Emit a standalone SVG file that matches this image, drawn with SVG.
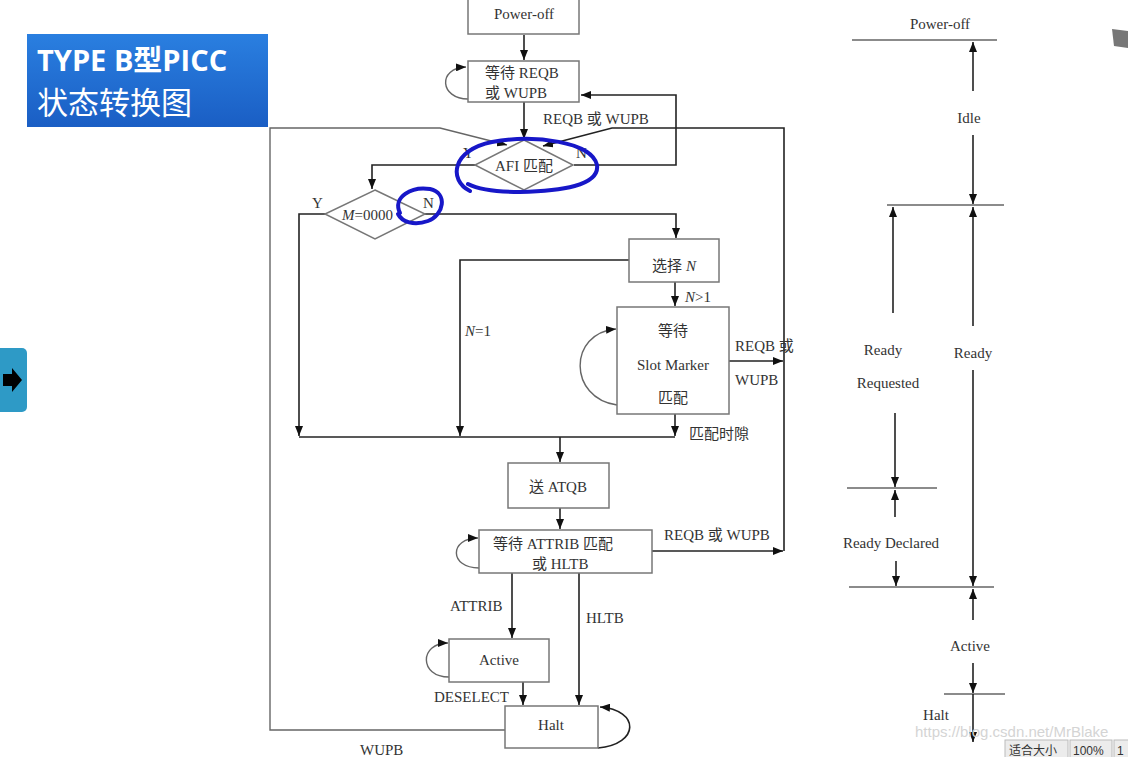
<svg xmlns="http://www.w3.org/2000/svg" width="1128" height="757" viewBox="0 0 1128 757">
<style>
.t{font-family:"Liberation Serif","Noto Sans CJK SC",serif;font-size:15px;fill:#333}
.c{text-anchor:middle}
.b{fill:#fff;stroke:#777;stroke-width:1.5}
.l{fill:none;stroke:#222;stroke-width:1.6}
.g{fill:none;stroke:#666;stroke-width:1.4}
.ann{fill:none;stroke:#1717c8;stroke-width:4;stroke-linecap:round}
</style>
<defs>
<marker id="a" markerWidth="10" markerHeight="8" refX="10" refY="4" orient="auto" markerUnits="userSpaceOnUse"><path d="M0,0 L10,4 L0,8 z" fill="#111"/></marker>
<linearGradient id="tg" x1="0" y1="0" x2="0" y2="1"><stop offset="0" stop-color="#2a7fe0"/><stop offset="1" stop-color="#1a5ec4"/></linearGradient>
</defs>
<rect width="1128" height="757" fill="#fff"/>

<g id="title">
<rect x="27" y="34" width="241" height="93" fill="url(#tg)"/>
<text x="37" y="71" style="font-family:'Open Sans','Noto Sans CJK SC',sans-serif;font-size:29px;font-weight:bold;fill:#fff">TYPE B型PICC</text>
<text x="37" y="114" style="font-family:'Noto Sans CJK SC',sans-serif;font-size:31px;fill:#fff">状态转换图</text>
</g>
<g id="sidetab">
<rect x="-6" y="348" width="33" height="64" rx="5" fill="#2e9ac6"/>
<path d="M3,374 H12 V368 L22,380 L12,392 V386 H3 z" fill="#000"/>
</g>
<g id="corner"><path d="M1112,29 L1128,31 V48 L1114,46 z" fill="#777"/></g>

<g id="connectors">
<path class="l" d="M524,35 V60" marker-end="url(#a)"/>
<path class="g" d="M468,99 C440,99 437,68 466,67" marker-end="url(#a)"/>
<path class="l" d="M524,102 V139" marker-end="url(#a)"/>
<path class="l" d="M574,165 H676 V95 H581" marker-end="url(#a)"/>
<path class="l" d="M784,551 V128 H612 L543,146" marker-end="url(#a)"/>
<path class="l" d="M475,165 H372 V189" marker-end="url(#a)"/>
<path class="l" d="M325,214 H299 V436" marker-end="url(#a)"/>
<path class="l" d="M425,214 H676 V238" marker-end="url(#a)"/>
<path class="l" d="M629,260 H460 V436" marker-end="url(#a)"/>
<path class="l" d="M675,282 V306" marker-end="url(#a)"/>
<path class="g" d="M617,405 C568,398 568,333 616,329" marker-end="url(#a)"/>
<path class="l" d="M729,361 H783" marker-end="url(#a)"/>
<path class="l" d="M675,414 V436" marker-end="url(#a)"/>
<path class="l" d="M299,437 H675"/>
<path class="l" d="M560,437 V462" marker-end="url(#a)"/>
<path class="l" d="M560,508 V529" marker-end="url(#a)"/>
<path class="g" d="M479,568 C449,568 449,538 478,538" marker-end="url(#a)"/>
<path class="l" d="M652,551 H783" marker-end="url(#a)"/>
<path class="l" d="M512,573 V638" marker-end="url(#a)"/>
<path class="l" d="M579,573 V705" marker-end="url(#a)"/>
<path class="g" d="M449,677 C419,677 419,643 448,643" marker-end="url(#a)"/>
<path class="l" d="M523,682 V705" marker-end="url(#a)"/>
<path class="l" d="M598,748 C640,744 640,710 600,707" marker-end="url(#a)"/>
<path class="g" d="M505,730 H270 V128 H440 L507,145" marker-end="url(#a)"/>
</g>

<g id="power-off"><rect class="b" x="468" y="-2" width="111" height="36"/><text class="t c" x="524" y="19">Power-off</text></g>
<g id="wait-reqb"><rect class="b" x="468" y="61" width="111" height="41"/><text class="t" x="485" y="78">等待 REQB</text><text class="t" x="485" y="98">或 WUPB</text></g>
<g id="afi"><path class="b" d="M524,140 L573,165 L524,190 L475,165 z"/><text class="t c" x="524" y="171">AFI 匹配</text><text class="t" x="463" y="158">Y</text><text class="t" x="576" y="158">N</text></g>
<g id="m-dec"><path class="b" d="M375,190 L425,214 L375,239 L325,214 z"/><text class="t" x="342" y="220"><tspan font-style="italic">M</tspan>=0000</text><text class="t" x="312" y="208">Y</text><text class="t" x="423" y="208">N</text></g>
<g id="select-n"><rect class="b" x="629" y="239" width="90" height="43"/><text class="t c" x="674" y="271">选择 <tspan font-style="italic">N</tspan></text></g>
<g id="slot"><rect class="b" x="617" y="307" width="112" height="107"/><text class="t c" x="673" y="336">等待</text><text class="t c" x="673" y="370">Slot Marker</text><text class="t c" x="673" y="403">匹配</text></g>
<g id="atqb"><rect class="b" x="508" y="463" width="101" height="45"/><text class="t c" x="558" y="492">送 ATQB</text></g>
<g id="wait-attrib"><rect class="b" x="479" y="530" width="173" height="43"/><text class="t" x="493" y="549">等待 ATTRIB 匹配</text><text class="t" x="532" y="569">或 HLTB</text></g>
<g id="active"><rect class="b" x="449" y="639" width="100" height="43"/><text class="t c" x="499" y="665">Active</text></g>
<g id="halt"><rect class="b" x="505" y="706" width="93" height="42"/><text class="t c" x="551" y="730">Halt</text></g>

<g id="labels">
<text class="t" x="543" y="124">REQB 或 WUPB</text>
<text class="t" x="465" y="336"><tspan font-style="italic">N</tspan>=1</text>
<text class="t" x="685" y="302"><tspan font-style="italic">N</tspan>&gt;1</text>
<text class="t" x="735" y="351">REQB 或</text>
<text class="t" x="735" y="385">WUPB</text>
<text class="t" x="689" y="439">匹配时隙</text>
<text class="t" x="664" y="540">REQB 或 WUPB</text>
<text class="t" x="450" y="611">ATTRIB</text>
<text class="t" x="586" y="623">HLTB</text>
<text class="t" x="434" y="702">DESELECT</text>
<text class="t" x="360" y="755">WUPB</text>
</g>

<g id="annotations">
<path class="ann" d="M470,191 C448,180 452,150 492,142 C535,134 592,142 597,165 C600,186 560,191 520,192 C498,192 478,189 468,184"/>
<path class="ann" d="M400,213 C392,197 412,186 430,189 C448,193 444,215 428,221 C414,226 402,222 398,214"/>
</g>

<g id="timeline">
<path class="g" d="M852,40 H997 M887,205 H1004 M847,488 H937 M849,587 H994 M944,694 H1005"/>
<path class="l" d="M973,91 V42" marker-end="url(#a)"/>
<path class="l" d="M973,135 V204" marker-end="url(#a)"/>
<path class="l" d="M893,313 V207" marker-end="url(#a)"/>
<path class="l" d="M973,326 V207" marker-end="url(#a)"/>
<path class="l" d="M973,370 V586" marker-end="url(#a)"/>
<path class="l" d="M895,413 V487" marker-end="url(#a)"/>
<path class="l" d="M895,517 V490" marker-end="url(#a)"/>
<path class="l" d="M896,561 V586" marker-end="url(#a)"/>
<path class="l" d="M973,620 V589" marker-end="url(#a)"/>
<path class="l" d="M973,663 V693" marker-end="url(#a)"/>
<path class="l" d="M973,694 V742" marker-end="url(#a)"/>
<text class="t c" x="940" y="29">Power-off</text>
<text class="t c" x="969" y="123">Idle</text>
<text class="t c" x="883" y="355">Ready</text>
<text class="t c" x="888" y="388">Requested</text>
<text class="t c" x="973" y="358">Ready</text>
<text class="t c" x="891" y="548">Ready Declared</text>
<text class="t c" x="970" y="651">Active</text>
<text class="t c" x="936" y="720">Halt</text>
</g>

<g id="ui">
<text x="915" y="737" style="font-family:'Liberation Sans',sans-serif;font-size:15px;fill:#d4d4d4">https://blog.csdn.net/MrBlake</text>
<rect x="1005" y="740" width="63" height="19" fill="#ececec" stroke="#bbb"/>
<rect x="1070" y="740" width="42" height="19" fill="#ececec" stroke="#bbb"/>
<rect x="1114" y="740" width="16" height="19" fill="#ececec" stroke="#bbb"/>
<text x="1009" y="755" style="font-family:'Noto Sans CJK SC',sans-serif;font-size:12px;fill:#333">适合大小</text>
<text x="1073" y="755" style="font-family:'Liberation Sans',sans-serif;font-size:12px;fill:#333">100%</text>
<text x="1117" y="755" style="font-family:'Liberation Sans',sans-serif;font-size:12px;fill:#333">1</text>
</g>
</svg>
